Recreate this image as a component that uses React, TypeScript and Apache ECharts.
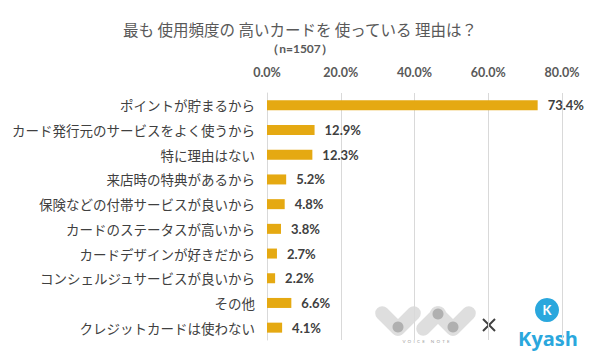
import React, { useEffect, useRef } from "react";
import * as echarts from "echarts";

const categories = [
  "ポイントが貯まるから",
  "カード発行元のサービスをよく使うから",
  "特に理由はない",
  "来店時の特典があるから",
  "保険などの付帯サービスが良いから",
  "カードのステータスが高いから",
  "カードデザインが好きだから",
  "コンシェルジュサービスが良いから",
  "その他",
  "クレジットカードは使わない",
];
const values = [73.4, 12.9, 12.3, 5.2, 4.8, 3.8, 2.7, 2.2, 6.6, 4.1];
const titleText = "最も 使用頻度の 高いカードを 使っている 理由は？";
const subtitleText = "（n=1507）";

const JP = '"Noto Sans CJK JP", sans-serif';
const NUM = 'Lato, "Open Sans", sans-serif';

function pill(cx: number, cy: number, rot: number, fill: string) {
  const w = 36;
  const h = 14;
  return {
    type: "group",
    x: cx,
    y: cy,
    rotation: rot,
    silent: true,
    children: [
      {
        type: "rect",
        shape: { x: -w / 2, y: -h / 2, width: w, height: h, r: h / 2 },
        style: { fill },
      },
    ],
  };
}

export default function App() {
  const ref = useRef<HTMLDivElement>(null);
  useEffect(() => {
    if (!ref.current) return;
    const chart = echarts.init(ref.current, undefined, { renderer: "svg" });
    const q = Math.PI / 4;
    const light = "#dedede";
    const dark = "#b0b0b0";
    chart.setOption({
      animation: false,
      backgroundColor: "#ffffff",
      title: [
        {
          text: titleText,
          left: "center",
          top: 16,
          textStyle: { fontFamily: JP, fontSize: 15.5, fontWeight: "normal", color: "#595959" },
        },
        {
          text: subtitleText,
          left: "center",
          top: 37,
          textStyle: { fontFamily: NUM, fontSize: 12, fontWeight: "bold", color: "#595959" },
        },
      ],
      grid: { left: 267, right: 38, top: 93, bottom: 20, containLabel: false },
      xAxis: {
        type: "value",
        position: "top",
        min: 0,
        max: 80,
        interval: 20,
        axisLine: { show: false },
        axisTick: { show: false },
        splitLine: { lineStyle: { color: "#d9d9d9", width: 1 } },
        axisLabel: {
          margin: 14,
          fontFamily: NUM,
          fontSize: 12.5,
          fontWeight: "bold",
          color: "#595959",
          formatter: (v: number) => v.toFixed(1) + "%",
        },
      },
      yAxis: {
        type: "category",
        inverse: true,
        data: categories,
        axisLine: { show: true, lineStyle: { color: "#d9d9d9" } },
        axisTick: { show: false },
        axisLabel: { margin: 12, fontFamily: JP, fontSize: 13.5, color: "#404040" },
      },
      series: [
        {
          type: "bar",
          data: values,
          barWidth: 10,
          itemStyle: { color: "#e5a912" },
          label: {
            show: true,
            position: "right",
            distance: 10,
            fontFamily: NUM,
            fontSize: 13,
            fontWeight: "bold",
            color: "#404040",
            formatter: (p: any) => p.value.toFixed(1) + "%",
          },
        },
      ],
      graphic: [
        {
          type: "rect",
          silent: true,
          shape: { x: 372, y: 286, width: 228, height: 74 },
          style: { fill: "#ffffff" },
        },
        pill(390, 321, -q, light),
        pill(406, 321, q, light),
        { type: "circle", shape: { cx: 398, cy: 327, r: 5.5 }, style: { fill: dark } },
        pill(431, 321, q, light),
        pill(445, 321, -q, light),
        pill(461, 321, q, light),
        { type: "circle", shape: { cx: 438, cy: 314, r: 5.5 }, style: { fill: dark } },
        { type: "circle", shape: { cx: 453, cy: 327, r: 5.5 }, style: { fill: dark } },
        {
          type: "text",
          x: 426,
          y: 341,
          style: {
            text: "V  O  I  C  E     N  O  T  E",
            fill: "#a0a0a0",
            fontSize: 4.5,
            fontFamily: NUM,
            align: "center",
            verticalAlign: "middle",
          },
        },
        {
          type: "line",
          silent: true,
          shape: { x1: 483, y1: 319, x2: 495, y2: 331 },
          style: { stroke: "#404040", lineWidth: 2 },
        },
        {
          type: "line",
          silent: true,
          shape: { x1: 495, y1: 319, x2: 483, y2: 331 },
          style: { stroke: "#404040", lineWidth: 2 },
        },
        { type: "circle", shape: { cx: 547, cy: 310, r: 12 }, style: { fill: "#2aa7dd" } },
        {
          type: "text",
          x: 547,
          y: 310,
          style: {
            text: "K",
            fill: "#ffffff",
            fontSize: 13,
            fontWeight: "bold",
            fontFamily: NUM,
            align: "center",
            verticalAlign: "middle",
          },
        },
        {
          type: "text",
          x: 548,
          y: 338,
          style: {
            text: "Kyash",
            fill: "#2aa7dd",
            fontSize: 20,
            fontWeight: "bold",
            fontFamily: '"Open Sans", Lato, sans-serif',
            align: "center",
            verticalAlign: "middle",
          },
        },
      ],
    });
    return () => chart.dispose();
  }, []);
  return <div ref={ref} style={{ width: 600, height: 360, position: "absolute", left: 0, top: 0 }} />;
}
